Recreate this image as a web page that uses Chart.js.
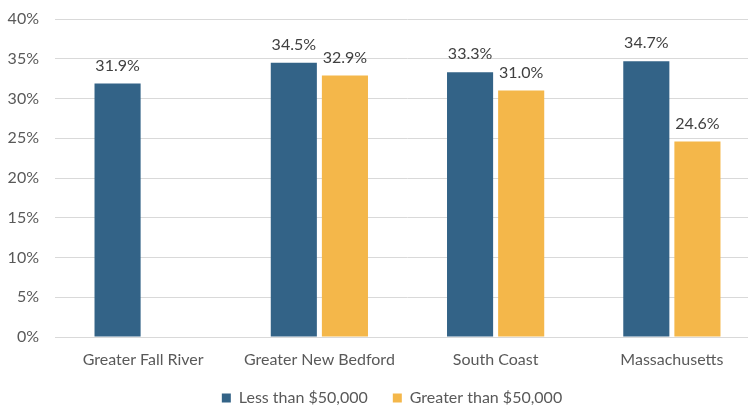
<!DOCTYPE html>
<html>
<head>
<meta charset="utf-8">
<script src="https://cdn.jsdelivr.net/npm/chart.js@4"></script>
<style>
  html, body { margin: 0; padding: 0; background: #fff; overflow: hidden; }
  #wrap { width: 784px; height: 407px; }
</style>
</head>
<body>
<div id="wrap"><canvas id="myChart" width="784" height="407"></canvas></div>
<script>
const categories = ['Greater Fall River', 'Greater New Bedford', 'South Coast', 'Massachusetts'];
const lessThan50k = [31.9, 34.5, 33.3, 34.7];
const greaterThan50k = [null, 32.9, 31.0, 24.6];
const yTicks = [0, 5, 10, 15, 20, 25, 30, 35, 40];

const FONT = "Lato, 'Open Sans', sans-serif";

// draws the value above each bar
const barLabels = {
  id: 'barLabels',
  afterDatasetsDraw(chart) {
    const ctx = chart.ctx;
    ctx.save();
    ctx.font = '16px ' + FONT;
    ctx.fillStyle = '#404040';
    ctx.textAlign = 'center';
    ctx.textBaseline = 'bottom';
    chart.data.datasets.forEach((ds, i) => {
      chart.getDatasetMeta(i).data.forEach((bar, j) => {
        const v = ds.data[j];
        if (v == null) return;
        ctx.fillText(v.toFixed(1) + '%', bar.x, bar.y - 10);
      });
    });
    ctx.restore();
  }
};

// centre the legend under the plot area rather than the canvas
const legendShift = {
  id: 'legendShift',
  afterLayout(chart) {
    const lg = chart.legend;
    lg.left += 12;
    lg.right += 12;
  }
};

new Chart(document.getElementById('myChart'), {
  type: 'bar',
  data: {
    labels: categories,
    datasets: [{
      label: 'Less than $50,000',
      data: lessThan50k,
      backgroundColor: '#336387',
      borderWidth: 0
    }, {
      label: 'Greater than $50,000',
      data: greaterThan50k,
      backgroundColor: '#F4B74A',
      borderWidth: 0
    }]
  },
  options: {
    responsive: false,
    animation: false,
    layout: { padding: { top: 19, right: 24, left: 0, bottom: -9 } },
    datasets: {
      bar: { categoryPercentage: 0.58, barPercentage: 0.902 }
    },
    scales: {
      x: {
        afterFit(scale) { scale.height = 28; },
        grid: { display: false, drawTicks: false },
        border: { color: '#d9d9d9', width: 1 },
        ticks: { color: '#595959', font: { family: FONT, size: 16 }, padding: 13 }
      },
      y: {
        min: 0,
        max: 40,
        afterBuildTicks(scale) { scale.ticks = yTicks.map(v => ({ value: v })); },
        afterFit(scale) {
          scale.width = 55;
          scale.paddingTop = 0;
          scale.paddingBottom = 0;
        },
        grid: { color: '#d9d9d9', drawTicks: false },
        border: { display: false },
        ticks: {
          color: '#595959',
          font: { family: FONT, size: 16 },
          padding: 16,
          callback: v => v + '%'
        }
      }
    },
    plugins: {
      legend: {
        position: 'bottom',
        labels: {
          color: '#595959',
          font: { family: FONT, size: 16 },
          boxWidth: 9,
          boxHeight: 9,
          padding: 25
        }
      },
      tooltip: { enabled: false }
    }
  },
  plugins: [barLabels, legendShift]
});
</script>
</body>
</html>
